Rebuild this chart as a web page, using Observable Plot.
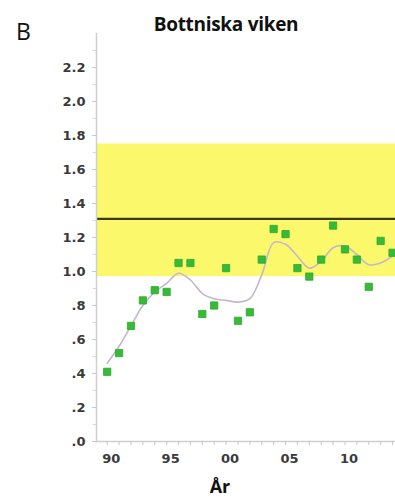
<!DOCTYPE html>
<html>
<head>
<meta charset="utf-8">
<script src="https://cdn.jsdelivr.net/npm/d3@7"></script>
<script src="https://cdn.jsdelivr.net/npm/@observablehq/plot@0.6"></script>
<style>
  body { margin: 0; background: #fff; }
  #wrap { position: relative; width: 395px; height: 497px; overflow: hidden; }
  #wrap svg { position: absolute; left: 0; top: 0; }
  .lbl { position: absolute; color: #111; white-space: nowrap; line-height: 1; }
  #panel { left: 16px; top: 15px; font: 400 23px "Open Sans", sans-serif; }
  #title { left: 0; width: 452px; top: 11px; text-align: center; font: 700 19px "Open Sans", sans-serif; letter-spacing: -0.3px; }
  #xlab { left: 0; width: 440px; top: 474px; text-align: center; font: 700 18px "Open Sans", sans-serif; }
</style>
</head>
<body>
<div id="wrap">
  <div class="lbl" id="panel">B</div>
  <div class="lbl" id="title">Bottniska viken</div>
  <div class="lbl" id="xlab">År</div>
</div>
<script>
const years = [1990,1991,1992,1993,1994,1995,1996,1997,1998,1999,2000,2001,2002,2003,2004,2005,2006,2007,2008,2009,2010,2011,2012,2013,2014];
const observed = [0.41,0.52,0.68,0.83,0.89,0.88,1.05,1.05,0.75,0.80,1.02,0.71,0.76,1.07,1.25,1.22,1.02,0.97,1.07,1.27,1.13,1.07,0.91,1.18,1.11];
const smoothed = [0.46,0.56,0.68,0.80,0.88,0.93,0.99,0.95,0.87,0.84,0.83,0.82,0.84,0.98,1.17,1.16,1.09,1.02,1.06,1.14,1.15,1.10,1.04,1.05,1.09];
const bandLow = 0.97, bandHigh = 1.75;
const reference = 1.31;
const yTicks = [0,0.2,0.4,0.6,0.8,1.0,1.2,1.4,1.6,1.8,2.0,2.2];
const yMinor = [0.1,0.3,0.5,0.7,0.9,1.1,1.3,1.5,1.7,1.9,2.1,2.3];
const xTicks = [1990,1995,2000,2005,2010];
const xTickLabels = ["90","95","00","05","10"];
const xDomain = [1989.1, 2014.25];
const yDomain = [0, 2.4];

const obsData = years.map((y,i) => ({year:y, v:observed[i]}));
const smData = years.map((y,i) => ({year:y, v:smoothed[i]}));

const chart = Plot.plot({
  width: 395,
  height: 497,
  marginLeft: 96,
  marginRight: 0,
  marginTop: 33,
  marginBottom: 56,
  x: {domain: xDomain},
  y: {domain: yDomain},
  style: {fontFamily: "'DejaVu Sans', Verdana, sans-serif", background: "transparent"},
  marks: [
    Plot.rect([{y1: bandLow, y2: bandHigh}], {y1: "y1", y2: "y2", fill: "#fcf86c"}),
    Plot.ruleY([reference], {stroke: "#3d3a1c", strokeWidth: 2.2}),
    Plot.line(smData, {x: "year", y: "v", curve: "catmull-rom", stroke: "#c4b7cc", strokeWidth: 1.6}),
    Plot.dot(obsData, {x: "year", y: "v", symbol: "square", r: 4.1, fill: "#36bb36", stroke: "#2fa82f", strokeWidth: 0.8}),
    Plot.frame({anchor: "left", stroke: "#cfcfcf", strokeWidth: 1.5}),
    Plot.frame({anchor: "bottom", stroke: "#cfcfcf", strokeWidth: 1.5}),
    Plot.axisY(yTicks, {anchor: "left", tickSize: 4, tickPadding: 7, stroke: "#c8c8c8",
      tickFormat: d => d.toFixed(1).replace(/^0/, ""), fontSize: 13, fontWeight: "bold", fill: "#3a3a3a", label: null}),
    Plot.axisY(yMinor, {anchor: "left", tickSize: 3, stroke: "#d6d6d6", tickFormat: () => "", label: null}),
    Plot.axisX(years, {anchor: "bottom", tickSize: 4, stroke: "#c8c8c8", tickFormat: () => "", label: null}),
    Plot.axisX(xTicks, {anchor: "bottom", tickSize: 0, tickPadding: 12, dx: 4,
      tickFormat: (d) => xTickLabels[xTicks.indexOf(d)], fontSize: 13, fontWeight: "bold", fill: "#3a3a3a", label: null})
  ]
});
document.getElementById("wrap").prepend(chart);
</script>
</body>
</html>
